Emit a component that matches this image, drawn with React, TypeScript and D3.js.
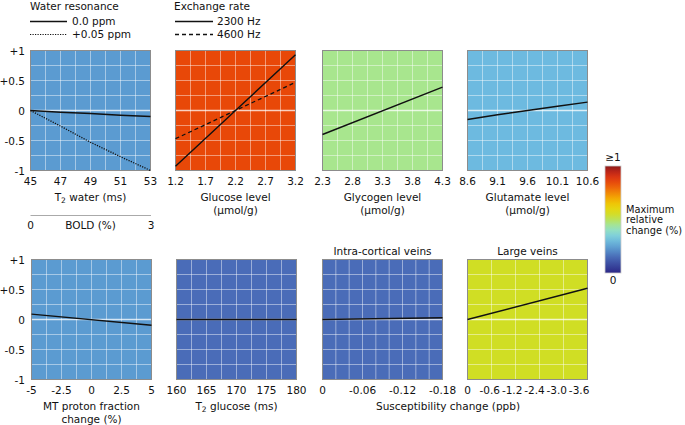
import { line, range, scaleLinear, scalePoint, interpolateRgbBasis } from 'd3'

// values
const yTicks = [1, 0.5, 0, -0.5, -1]
const yTickLabels = ['+1', '+0.5', '0', '-0.5', '-1']

const waterT2 = [45, 47, 49, 51, 53]
const waterOnRes = [0, -0.03, -0.05, -0.08, -0.1]
const waterOffRes = [0, -0.26, -0.53, -0.77, -1.0]

const glucoseLevel = [1.2, 2.2, 3.2]
const glucose2300 = [-0.93, 0, 0.93]
const glucose4600 = [-0.47, 0, 0.47]

const glycogenLevel = [2.3, 4.3]
const glycogenChange = [-0.4, 0.39]

const glutamateLevel = [8.6, 9.1, 9.6, 10.1, 10.6]
const glutamateChange = [-0.15, -0.07, 0, 0.07, 0.14]

const mtFraction = [-5, 5]
const mtChange = [0.09, -0.095]

const t2Glucose = [160, 180]
const t2GlucoseChange = [0, 0]

const icvSusc = [0, -0.18]
const icvChange = [0, 0.03]

const lvSusc = [0, -3.6]
const lvChange = [0, 0.52]
const lvTickLabels = ['0', '-0.6', '-1.2', '-2.4', '-3.0', '-3.6']

const boldTicks = ['0', '3']

const cmapStops = ['#2c2787', '#3a4aa0', '#4a6cb8', '#5b9bd0', '#70bfe0', '#8ee0d8', '#a6e68c', '#d0de25', '#ecd80a', '#f5b000', '#f07808', '#e84a0a', '#d82a18', '#8b1a1a']

const FONT = '"DejaVu Sans", sans-serif'
const FS = 10.5
const W = 120
const H = 120

type Series = { xs: number[]; ys: number[]; dash?: string }
type Panel = {
  x0: number
  y0: number
  fill: string
  domain: [number, number]
  nx: number
  ticks: number[]
  tickFmt?: (v: number) => string
  pointTicks?: string[]
  series: Series[]
  title?: string
  yLabels?: boolean
}

const fmt1 = (v: number) => v.toFixed(1)

const panels: Panel[] = [
  { x0: 30.5, y0: 50.5, fill: '#5b9bd1', domain: [45, 53], nx: 8, ticks: [45, 47, 49, 51, 53], yLabels: true,
    series: [{ xs: waterT2, ys: waterOnRes }, { xs: waterT2, ys: waterOffRes, dash: '1.2,1.3' }] },
  { x0: 175.5, y0: 50.5, fill: '#e84808', domain: [1.2, 3.2], nx: 8, ticks: [1.2, 1.7, 2.2, 2.7, 3.2], tickFmt: fmt1,
    series: [{ xs: glucoseLevel, ys: glucose2300 }, { xs: glucoseLevel, ys: glucose4600, dash: '4,3' }] },
  { x0: 322.5, y0: 50.5, fill: '#a8e68e', domain: [2.3, 4.3], nx: 8, ticks: [2.3, 2.8, 3.3, 3.8, 4.3], tickFmt: fmt1,
    series: [{ xs: glycogenLevel, ys: glycogenChange }] },
  { x0: 467.5, y0: 50.5, fill: '#6dbae0', domain: [8.6, 10.6], nx: 8, ticks: [8.6, 9.1, 9.6, 10.1, 10.6], tickFmt: fmt1,
    series: [{ xs: glutamateLevel, ys: glutamateChange }] },
  { x0: 31.5, y0: 259.5, fill: '#5b9bd1', domain: [-5, 5], nx: 8, ticks: [-5, -2.5, 0, 2.5, 5], yLabels: true,
    series: [{ xs: mtFraction, ys: mtChange }] },
  { x0: 176.5, y0: 259.5, fill: '#4a6cb8', domain: [160, 180], nx: 8, ticks: [160, 165, 170, 175, 180],
    series: [{ xs: t2Glucose, ys: t2GlucoseChange }] },
  { x0: 322.5, y0: 259.5, fill: '#4a6cb8', domain: [0, -0.18], nx: 9, ticks: [0, -0.06, -0.12, -0.18],
    tickFmt: (v) => (v === 0 ? '0' : v.toFixed(2)), title: 'Intra-cortical veins',
    series: [{ xs: icvSusc, ys: icvChange }] },
  { x0: 467.5, y0: 259.5, fill: '#d0de24', domain: [0, -3.6], nx: 5, ticks: [], pointTicks: lvTickLabels, title: 'Large veins',
    series: [{ xs: lvSusc, ys: lvChange }] },
]

function PanelView({ p }: { p: Panel }) {
  const x = scaleLinear().domain(p.domain).range([p.x0, p.x0 + W])
  const y = scaleLinear().domain([-1, 1]).range([p.y0 + H, p.y0])
  const gx = range(1, p.nx).map((i) => p.x0 + (i * W) / p.nx)
  const gy = range(-0.75, 1, 0.25).filter((v) => Math.abs(v) > 1e-6)
  const labelY = p.y0 + H + 14.5
  const pt = p.pointTicks
    ? scalePoint<string>().domain(p.pointTicks).range([p.x0, p.x0 + W * 0.93])
    : null
  const fmt = p.tickFmt ?? ((v: number) => String(v))
  return (
    <g>
      <rect x={p.x0} y={p.y0} width={W} height={H} fill={p.fill} />
      {gx.map((gv, i) => (
        <line key={'gx' + i} x1={gv} x2={gv} y1={p.y0} y2={p.y0 + H} stroke="#fff" strokeOpacity={0.45} strokeWidth={1} />
      ))}
      {gy.map((v, i) => (
        <line key={'gy' + i} x1={p.x0} x2={p.x0 + W} y1={y(v)} y2={y(v)} stroke="#fff" strokeOpacity={0.45} strokeWidth={1} />
      ))}
      <line x1={p.x0} x2={p.x0 + W} y1={y(0)} y2={y(0)} stroke="#fff" strokeOpacity={0.75} strokeWidth={1.3} />
      <rect x={p.x0} y={p.y0} width={W} height={H} fill="none" stroke="#8c8c8c" strokeWidth={1} />
      {p.series.map((s, i) => {
        const d = line<number>()
          .x((_, j) => x(s.xs[j]))
          .y((v) => y(v))(s.ys)
        return (
          <path key={i} d={d ?? ''} fill="none" stroke="#111" strokeWidth={s.dash ? 1.3 : 1.4} strokeDasharray={s.dash} />
        )
      })}
      {pt
        ? p.pointTicks!.map((t) => (
            <text key={t} x={pt(t)} y={labelY} textAnchor="middle">{t}</text>
          ))
        : p.ticks.map((t) => (
            <text key={t} x={x(t)} y={labelY} textAnchor="middle">{fmt(t)}</text>
          ))}
      {p.yLabels &&
        yTicks.map((v, i) => (
          <text key={'y' + i} x={25} y={y(v) + 4} textAnchor="end">{yTickLabels[i]}</text>
        ))}
      {p.title && (
        <text x={p.x0 + W / 2} y={p.y0 - 5} textAnchor="middle">{p.title}</text>
      )}
    </g>
  )
}

export default function App() {
  const cmap = interpolateRgbBasis(cmapStops)
  const cbX = 605
  const cbY = 166
  const cbH = 107
  const cbW = 16
  const stops = range(0, 1.0001, 0.05)
  const boldX = scalePoint<string>().domain(boldTicks).range([30.5, 151])
  return (
    <svg width={685} height={425} style={{ position: 'absolute', left: 0, top: 0 }} fontFamily={FONT} fontSize={FS} fill="#111">
      <defs>
        <linearGradient id="cbar" x1="0" y1="1" x2="0" y2="0">
          {stops.map((t) => (
            <stop key={t} offset={`${t * 100}%`} stopColor={cmap(t)} />
          ))}
        </linearGradient>
      </defs>
      <rect width={685} height={425} fill="#fff" />

      {/* legends */}
      <text x={30} y={9.5}>Water resonance</text>
      <line x1={30} x2={67} y1={21.5} y2={21.5} stroke="#111" strokeWidth={1.4} />
      <text x={72} y={25}>0.0 ppm</text>
      <line x1={30} x2={67} y1={34.5} y2={34.5} stroke="#111" strokeWidth={1.2} strokeDasharray="1.2,1.3" />
      <text x={72} y={38}>+0.05 ppm</text>

      <text x={174} y={9.5}>Exchange rate</text>
      <line x1={175} x2={213} y1={21.5} y2={21.5} stroke="#111" strokeWidth={1.4} />
      <text x={217} y={25}>2300 Hz</text>
      <line x1={175} x2={213} y1={34.5} y2={34.5} stroke="#111" strokeWidth={1.3} strokeDasharray="4,3" />
      <text x={217} y={38}>4600 Hz</text>

      {panels.map((p, i) => (
        <PanelView key={i} p={p} />
      ))}

      {/* axis titles, top row */}
      <text x={90.5} y={201} textAnchor="middle">
        T<tspan fontSize={7.5} dy={2}>2</tspan>
        <tspan dy={-2}> water (ms)</tspan>
      </text>
      <text x={235.5} y={201} textAnchor="middle">Glucose level</text>
      <text x={235.5} y={214} textAnchor="middle">(µmol/g)</text>
      <text x={382.5} y={201} textAnchor="middle">Glycogen level</text>
      <text x={382.5} y={214} textAnchor="middle">(µmol/g)</text>
      <text x={527.5} y={201} textAnchor="middle">Glutamate level</text>
      <text x={527.5} y={214} textAnchor="middle">(µmol/g)</text>

      {/* BOLD secondary axis */}
      <line x1={30.5} x2={151} y1={215.5} y2={215.5} stroke="#aaa" strokeWidth={1} />
      {boldTicks.map((t) => (
        <text key={t} x={boldX(t)} y={229} textAnchor="middle">{t}</text>
      ))}
      <text x={90.5} y={229} textAnchor="middle">BOLD (%)</text>

      {/* axis titles, bottom row */}
      <text x={91.5} y={410} textAnchor="middle">MT proton fraction</text>
      <text x={91.5} y={423} textAnchor="middle">change (%)</text>
      <text x={236.5} y={410} textAnchor="middle">
        T<tspan fontSize={7.5} dy={2}>2</tspan>
        <tspan dy={-2}> glucose (ms)</tspan>
      </text>
      <text x={448} y={410} textAnchor="middle">Susceptibility change (ppb)</text>

      {/* colour bar */}
      <rect x={cbX} y={cbY} width={cbW} height={cbH} fill="url(#cbar)" stroke="#ccc" strokeWidth={0.8} />
      <text x={cbX + cbW / 2} y={161} textAnchor="middle">≥1</text>
      <text x={cbX + cbW / 2} y={284} textAnchor="middle">0</text>
      <g fontSize={9.8}>
        <text x={626} y={212.5}>Maximum</text>
        <text x={626} y={223}>relative</text>
        <text x={626} y={233.5}>change (%)</text>
      </g>
    </svg>
  )
}
